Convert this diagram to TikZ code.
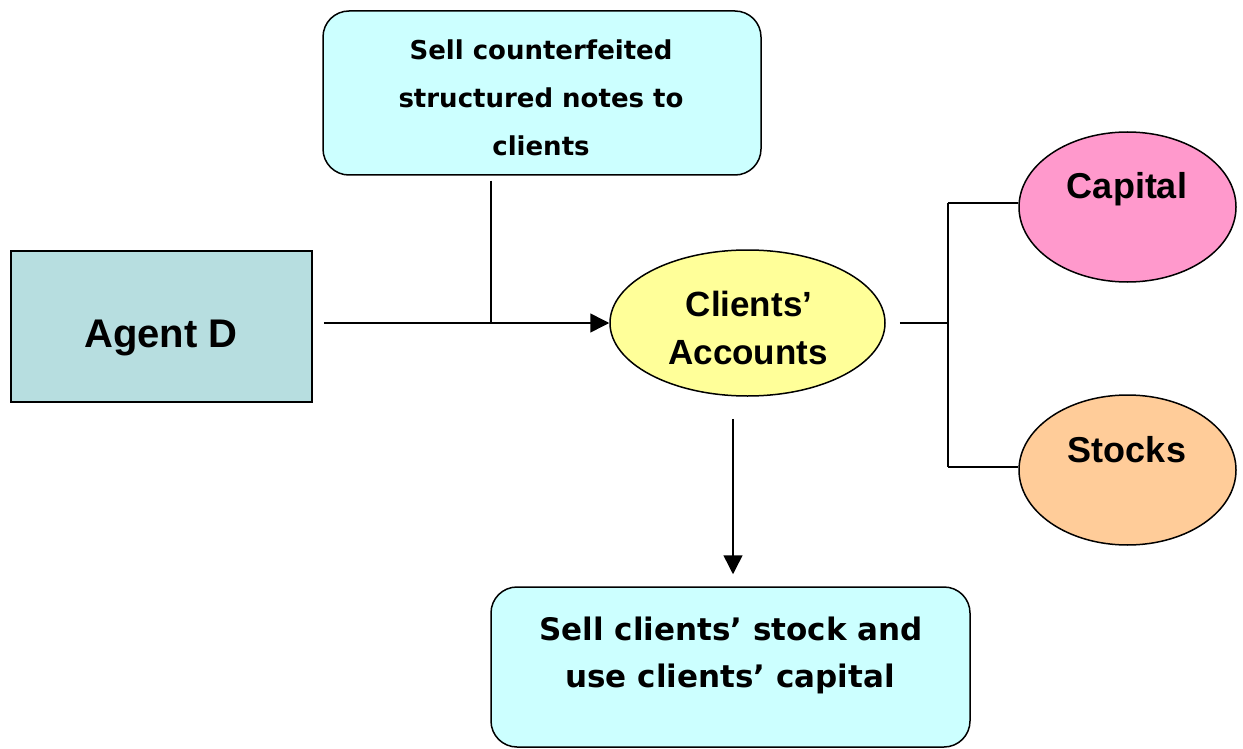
\documentclass[tikz,border=0pt]{standalone}
\usepackage{fontspec}
\newfontfamily\vfont{DejaVu Sans}
\newfontfamily\afont{Liberation Sans}
\usetikzlibrary{shapes.geometric,arrows.meta}
\definecolor{cyanbox}{HTML}{CCFFFF}
\definecolor{agentfill}{HTML}{B7DEE0}
\definecolor{yellfill}{HTML}{FFFF99}
\definecolor{pinkfill}{HTML}{FF99CC}
\definecolor{orangefill}{HTML}{FFCC99}
\begin{document}
\begin{tikzpicture}[x=1pt,y=-1pt,
  rbox/.style={draw=black,line width=1.5pt,fill=cyanbox,rounded corners=26pt,inner sep=0pt},
  sqbox/.style={draw=black,line width=1.5pt,fill=agentfill,inner sep=0pt},
  ell/.style={draw=black,line width=1.5pt,ellipse,inner sep=0pt},
  vtxt/.style={anchor=base,inner sep=0pt,font=\vfont\bfseries},
  atxt/.style={anchor=base,inner sep=0pt,font=\afont\bfseries},
  conn/.style={draw=black,line width=1.5pt},
  arr/.style={conn,-{Triangle[length=19pt,width=19pt]}}]
\useasboundingbox (0,0) rectangle (1243,749);
% shapes
\node[rbox,minimum width=438pt,minimum height=164pt] (top) at (542,93) {};
\node[sqbox,minimum width=301pt,minimum height=151pt] (agent) at (161.5,326.5) {};
\node[ell,fill=yellfill,minimum width=275pt,minimum height=146pt] (acc) at (747.5,323) {};
\node[ell,fill=pinkfill,minimum width=217pt,minimum height=150pt] (cap) at (1127.5,207) {};
\node[ell,fill=orangefill,minimum width=217pt,minimum height=150pt] (stk) at (1127.5,470) {};
\node[rbox,minimum width=479pt,minimum height=160pt] (bot) at (730.5,667) {};
% texts
\node[vtxt,font=\vfont\bfseries\fontsize{26}{30}\selectfont] (t1) at (541,60) {Sell counterfeited};
\node[vtxt,font=\vfont\bfseries\fontsize{26}{30}\selectfont] (t2) at (541,108) {structured notes to};
\node[vtxt,font=\vfont\bfseries\fontsize{26}{30}\selectfont] (t3) at (541,156) {clients};
\node[atxt,font=\afont\bfseries\fontsize{40}{44}\selectfont] (ta) at (161,347) {Agent D};
\node[atxt,font=\afont\bfseries\fontsize{35}{40}\selectfont] (tc1) at (749,316) {Clients’};
\node[atxt,font=\afont\bfseries\fontsize{35}{40}\selectfont] (tc2) at (748,364) {Accounts};
\node[atxt,font=\afont\bfseries\fontsize{36}{40}\selectfont] (tcap) at (1127,198) {Capital};
\node[atxt,font=\afont\bfseries\fontsize{36}{40}\selectfont] (tstk) at (1127,462) {Stocks};
\node[vtxt,font=\vfont\bfseries\fontsize{31}{36}\selectfont] (b1) at (731,640) {Sell clients’ stock and};
\node[vtxt,font=\vfont\bfseries\fontsize{31}{36}\selectfont] (b2) at (730,687) {use clients’ capital};
% connectors
\coordinate (agentout) at ([xshift=11pt]agent.east |- acc.west);
\coordinate (topout) at ([xshift=-51pt,yshift=-5pt]top.south);
\coordinate (join) at (topout |- acc.west);
\coordinate (accout) at ([xshift=14pt]acc.east);
\coordinate (branch) at ([xshift=48pt]accout);
\coordinate (accdown) at ([xshift=-14.5pt,yshift=-22pt]acc.south);
\coordinate (botin) at ([yshift=12pt]bot.north);
\draw[arr] (agentout) -- (acc.west);
\draw[conn] (topout) -- (join);
\draw[conn] (accout) -- (branch);
\draw[conn] (branch |- 0,203) -- (branch |- 0,467);
\draw[conn] (branch |- 0,203) -- (cap.west |- 0,203);
\draw[conn] (branch |- 0,467) -- (stk.west |- 0,467);
\draw[arr] (accdown) -- (accdown |- botin);
\end{tikzpicture}
\end{document}
